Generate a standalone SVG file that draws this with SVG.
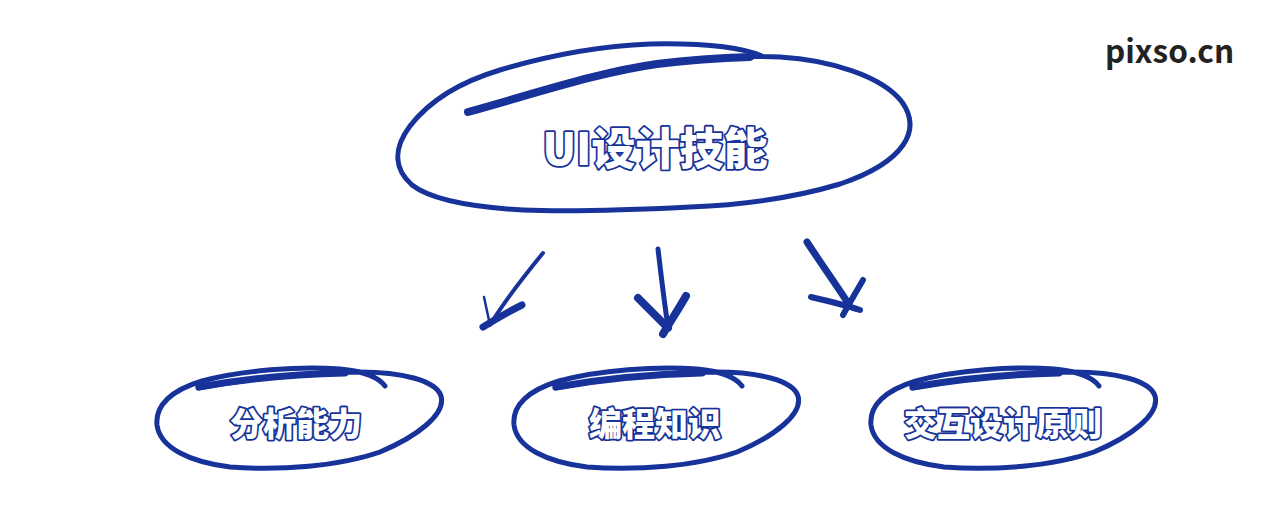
<svg xmlns="http://www.w3.org/2000/svg" width="1275" height="516" viewBox="0 0 1275 516">
<style>
.ln{fill:none;stroke:#17339a;stroke-linecap:round;stroke-linejoin:round}
.lbl{font-family:"Noto Sans CJK SC","Noto Sans",sans-serif;font-weight:900;fill:#ffffff;stroke:#17339a;stroke-width:3.6;stroke-linejoin:round;paint-order:stroke;text-anchor:middle}
.brand{font-family:"Noto Sans CJK SC","Noto Sans",sans-serif;font-weight:700;fill:#222222;font-size:31.5px}
</style>
<defs>
<g id="smallLoop">
<path class="ln" stroke-width="5" d="M198,388 C250,378 320,372 360,372 C400,372 436,380 441,396 C446,414 418,436 380,452 C340,466 280,471 230,467 C190,462 160,448 157,425 C155,405 172,390 202,381 C242,370 300,366 340,369 C364,371 379,378 385,386"/>
<path class="ln" stroke-width="7" d="M199,387 C250,378 300,374 345,373"/>
</g>
</defs>
<rect width="1275" height="516" fill="#ffffff"/>
<text class="brand" x="1105" y="63">pixso.cn</text>
<g id="node-root">
<path class="ln" stroke-width="5" d="M467,112 C540,92 600,72 657,64 C700,58 740,55 780,57 C830,60 882,76 902,102 C922,130 905,162 840,184 C790,199 740,205 690,207 C630,210 570,212 523,210 C470,207 430,199 412,185 C395,170 392,150 410,126 C430,100 460,82 500,70 C550,55 600,46 650,44 C700,43 740,47 762,56"/>
<path class="ln" stroke-width="8" d="M468,112 C540,92 600,72 657,64 C690,60 720,58 750,57"/>
<text class="lbl" x="655" y="165" font-size="44">UI设计技能</text>
</g>
<g id="node-analysis">
<use href="#smallLoop"/>
<text class="lbl" x="296" y="436" font-size="33">分析能力</text>
</g>
<g id="node-coding">
<use href="#smallLoop" transform="translate(357,0)"/>
<text class="lbl" x="655" y="436" font-size="33">编程知识</text>
</g>
<g id="node-interaction">
<use href="#smallLoop" transform="translate(714,0)"/>
<text class="lbl" x="1003" y="436" font-size="33">交互设计原则</text>
</g>
<g id="connectors">
<path class="ln" stroke-width="4" d="M543,253 C525,275 505,300 490,325"/>
<path class="ln" stroke-width="2.5" d="M484,297 L490,325"/>
<path class="ln" stroke-width="7" d="M522,305 C508,312 494,320 483,327"/>
<path class="ln" stroke-width="5" d="M658,249 C661,275 664,300 668,327"/>
<path class="ln" stroke-width="8" d="M638,298 C648,308 658,318 668,328"/>
<path class="ln" stroke-width="8" d="M686,296 C678,310 670,322 663,334"/>
<path class="ln" stroke-width="7" d="M807,242 C820,262 835,283 848,303"/>
<path class="ln" stroke-width="6" d="M811,297 C828,301 845,305 860,310"/>
<path class="ln" stroke-width="6" d="M863,280 C856,292 849,304 843,315"/>
</g>
</svg>
